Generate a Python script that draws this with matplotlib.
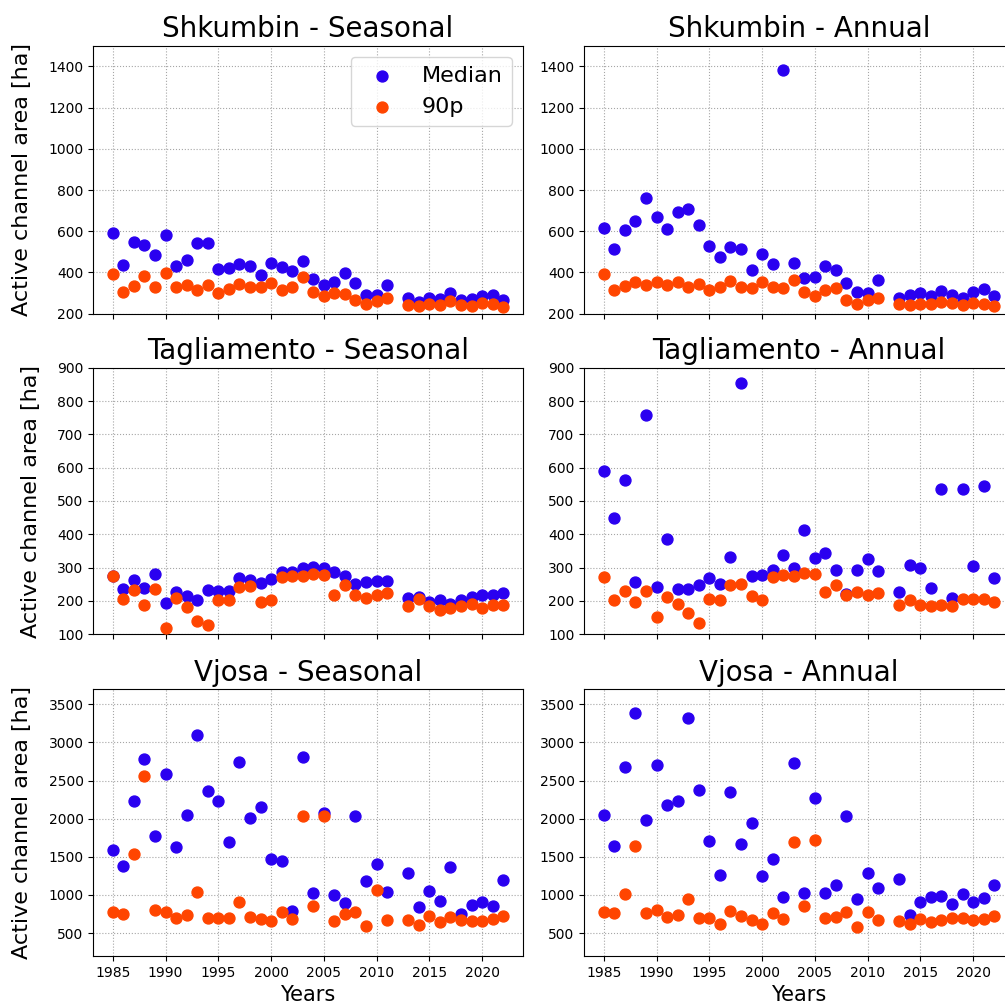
import matplotlib
matplotlib.use("Agg")
import matplotlib.pyplot as plt
from matplotlib.ticker import MultipleLocator

years = [y for y in range(1985, 2023) if y != 2012]

shk_seas_med = [593, 436, 548, 535, 483, 582, 430, 462, 542, 542, 417, 420, 440, 433, 388,
                448, 427, 406, 454, 370, 338, 354, 398, 349, 292, 292, 341,
                274, 258, 278, 270, 302, 266, 270, 287, 291, 266]
shk_seas_90 = [391, 307, 333, 383, 328, 398, 330, 341, 313, 338, 302, 320, 346, 331, 331,
               347, 313, 331, 378, 304, 287, 302, 294, 266, 245, 262, 278,
               242, 237, 247, 242, 260, 244, 236, 253, 245, 234]

shk_ann_med = [615, 514, 606, 650, 759, 670, 610, 691, 708, 631, 530, 475, 522, 514, 414,
               488, 440, 1382, 448, 375, 380, 432, 411, 349, 304, 302, 362,
               278, 289, 302, 286, 310, 291, 278, 307, 318, 286]
shk_ann_90 = [394, 313, 334, 355, 341, 355, 341, 354, 330, 344, 315, 328, 360, 331, 326,
              354, 330, 326, 365, 304, 287, 315, 326, 268, 247, 265, 278,
              247, 240, 249, 247, 257, 250, 240, 250, 247, 236]

tag_seas_med = [276, 236, 262, 239, 282, 193, 226, 216, 204, 232, 229, 230, 268, 264, 254,
                267, 287, 287, 299, 301, 299, 286, 276, 250, 256, 260, 260,
                208, 212, 196, 202, 192, 204, 212, 218, 218, 223]
tag_seas_90 = [276, 206, 233, 189, 236, 119, 209, 181, 141, 129, 202, 202, 241, 244, 196,
               204, 273, 274, 276, 280, 277, 217, 249, 219, 209, 219, 225,
               186, 206, 184, 174, 178, 184, 192, 178, 189, 189]

tag_ann_med = [591, 449, 563, 256, 757, 241, 387, 235, 236, 248, 270, 251, 331, 855, 274,
               277, 294, 338, 300, 413, 328, 344, 293, 220, 294, 325, 291,
               226, 307, 300, 240, 536, 209, 536, 305, 545, 268]
tag_ann_90 = [271, 204, 231, 196, 229, 152, 212, 190, 163, 134, 207, 202, 248, 252, 215,
              204, 273, 277, 275, 283, 281, 228, 249, 219, 227, 219, 224,
              187, 204, 187, 185, 189, 185, 205, 205, 205, 196]

vjo_seas_med = [1586, 1376, 2227, 2785, 1773, 2588, 1629, 2052, 3103, 2366, 2227, 1695, 2741, 2013, 2152,
                1477, 1446, 796, 2815, 1032, 2070, 1001, 897, 2039, 1185, 1411, 1036,
                1294, 840, 1049, 919, 1363, 749, 871, 910, 853, 1198]
vjo_seas_90 = [779, 757, 1542, 2554, 805, 779, 692, 740, 1045, 700, 692, 692, 905, 714, 683,
               653, 783, 683, 2030, 853, 2030, 661, 749, 775, 592, 1067, 670,
               666, 609, 727, 648, 709, 666, 661, 653, 683, 718]

vjo_ann_med = [2048, 1647, 2680, 3382, 1978, 2706, 2183, 2231, 3317, 2379, 1708, 1267, 2353, 1673, 1943,
               1250, 1472, 975, 2728, 1032, 2266, 1028, 1137, 2039, 953, 1289, 1097,
               1215, 740, 910, 971, 988, 879, 1010, 910, 962, 1128]
vjo_ann_90 = [779, 766, 1014, 1638, 770, 801, 705, 735, 949, 692, 700, 622, 792, 722, 674,
              622, 766, 683, 1690, 853, 1725, 692, 705, 775, 578, 775, 674,
              657, 618, 687, 644, 674, 692, 692, 674, 679, 718]

titles = [["Shkumbin - Seasonal", "Shkumbin - Annual"],
          ["Tagliamento - Seasonal", "Tagliamento - Annual"],
          ["Vjosa - Seasonal", "Vjosa - Annual"]]
series = [[(shk_seas_med, shk_seas_90), (shk_ann_med, shk_ann_90)],
          [(tag_seas_med, tag_seas_90), (tag_ann_med, tag_ann_90)],
          [(vjo_seas_med, vjo_seas_90), (vjo_ann_med, vjo_ann_90)]]
ylims = [(200, 1500), (100, 900), (200, 3700)]
ysteps = [200, 100, 500]

BLUE = "#2a00f0"
ORANGE = "#ff4500"

fig = plt.figure(figsize=(10.05, 10.06), dpi=100)
W, H = 1005.0, 1006.0
col_left = [93.3, 584.3]
col_w = 429.4
row_top = [45.7, 367.7, 689.0]
row_bot = [313.7, 634.3, 956.0]

for r in range(3):
    for c in range(2):
        ax = fig.add_axes([col_left[c] / W, (H - row_bot[r]) / H, col_w / W,
                           (row_bot[r] - row_top[r]) / H])
        med, p90 = series[r][c]
        ax.scatter(years, med, s=62, color=BLUE, label="Median", zorder=3)
        ax.scatter(years, p90, s=62, color=ORANGE, label="90p", zorder=3)
        ax.set_ylim(*ylims[r])
        ax.yaxis.set_major_locator(MultipleLocator(ysteps[r]))
        ax.set_xlim(1983.15, 2023.85)
        ax.xaxis.set_major_locator(MultipleLocator(5))
        ax.grid(True, linestyle=":", color="0.65", linewidth=0.8)
        ax.set_axisbelow(True)
        ax.set_title(titles[r][c], fontsize=20)
        ax.tick_params(labelsize=10)
        if c == 0:
            ax.set_ylabel("Active channel area [ha]", fontsize=16, labelpad=12)
        if r == 2:
            ax.set_xlabel("Years", fontsize=15)
        else:
            ax.tick_params(labelbottom=False)
        if r == 0 and c == 0:
            ax.legend(loc="upper right", fontsize=16)

fig.savefig("out.png", dpi=100)
